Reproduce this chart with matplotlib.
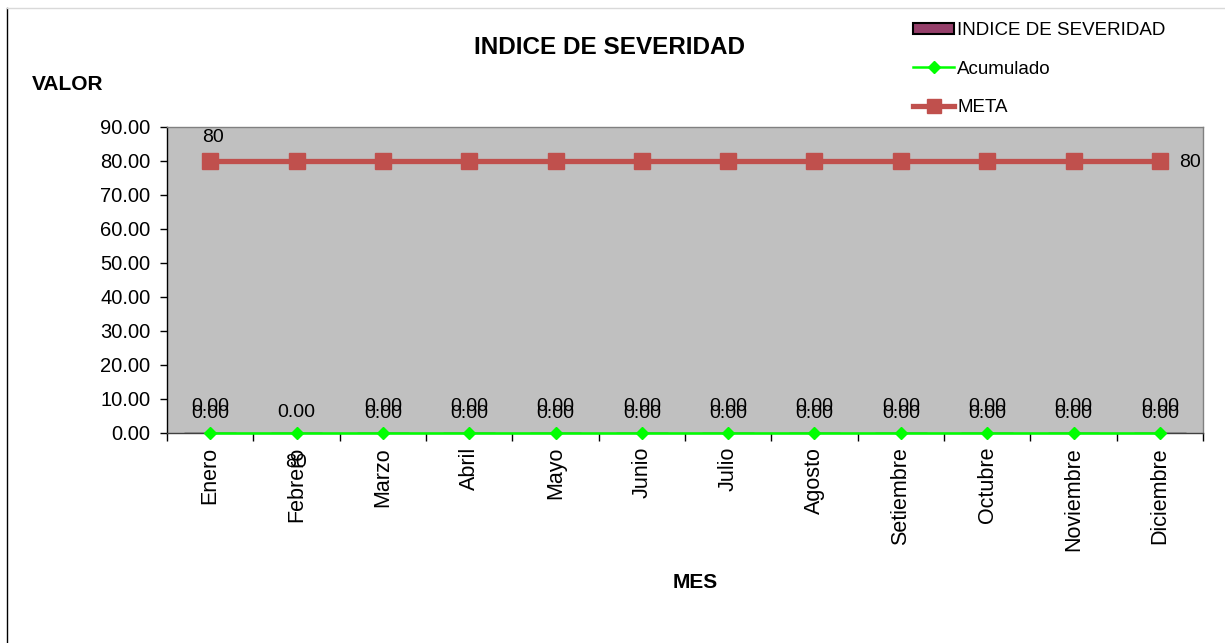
import matplotlib
matplotlib.use("Agg")
import matplotlib.pyplot as plt
from matplotlib.lines import Line2D
from matplotlib.patches import Patch
import numpy as np

plt.rcParams['font.family'] = ['Liberation Sans', 'DejaVu Sans']

meses = ["Enero", "Febrero", "Marzo", "Abril", "Mayo", "Junio", "Julio",
         "Agosto", "Setiembre", "Octubre", "Noviembre", "Diciembre"]
indice = [0, 0, 0, 0, 0, 0, 0, 0, 0, 0, 0, 0]
acumulado = [0, 0, 0, 0, 0, 0, 0, 0, 0, 0, 0, 0]
meta = [80, 80, 80, 80, 80, 80, 80, 80, 80, 80, 80, 80]
yticks = [0, 10, 20, 30, 40, 50, 60, 70, 80, 90]

W, H = 1225, 643
fig = plt.figure(figsize=(W / 100, H / 100), dpi=100)
ax = fig.add_axes([167 / W, 1 - 433 / H, (1203 - 167) / W, (433 - 127) / H])
ax.set_facecolor('#C0C0C0')

x = np.arange(len(meses))
bar_color = '#953F6A'
ax.bar(x, indice, width=0.6, color=bar_color, edgecolor='black', zorder=2)
ax.plot(x, acumulado, color='#00FF00', lw=1.8, marker='D', ms=6.5,
        mec='#00FF00', mfc='#00FF00', zorder=3, clip_on=False)
ax.plot(x, meta, color='#C0504D', lw=3.8, marker='s', ms=12,
        mec='#C0504D', mfc='#C0504D', zorder=4)

# data labels
LFS = 14
for i in range(len(meses)):
    if i == 1:
        ax.annotate(f"{indice[i]:.2f}", (x[i], indice[i]), xytext=(0, 15),
                    textcoords='offset points', ha='center', va='center', fontsize=LFS)
    else:
        ax.annotate(f"{indice[i]:.2f}", (x[i], indice[i]), xytext=(0, 19),
                    textcoords='offset points', ha='center', va='center', fontsize=LFS)
        ax.annotate(f"{acumulado[i]:.2f}", (x[i], acumulado[i]), xytext=(0, 14),
                    textcoords='offset points', ha='center', va='center', fontsize=LFS)

ax.annotate(f"{meta[0]}", (x[0], meta[0]), xytext=(2, 17), textcoords='offset points',
            ha='center', va='center', fontsize=LFS)
ax.annotate(f"{meta[1]}", (x[1], 0), xytext=(0, -21), textcoords='offset points',
            ha='center', va='center', fontsize=LFS, annotation_clip=False)
ax.annotate(f"{meta[-1]}", (x[-1], meta[-1]), xytext=(22, -1), textcoords='offset points',
            ha='center', va='center', fontsize=LFS)

ax.set_xlim(-0.5, len(meses) - 0.5)
ax.set_ylim(0, 90)
ax.set_yticks(yticks)
ax.set_yticklabels([f"{v:.2f}" for v in yticks], fontsize=14.5)
ax.tick_params(axis='y', direction='out', length=5, width=1, pad=7)

ax.set_xticks(np.arange(-0.5, len(meses), 1.0))
ax.set_xticklabels([])
ax.tick_params(axis='x', which='major', direction='out', length=6, width=1)
ax.set_xticks(x, minor=True)
ax.set_xticklabels(meses, minor=True, rotation=90, fontsize=15.5)
ax.tick_params(axis='x', which='minor', length=0, pad=10)

ax.spines['left'].set_color('black')
ax.spines['bottom'].set_color('#404040')
ax.spines['top'].set_color('#808080')
ax.spines['right'].set_color('#808080')
for s in ax.spines.values():
    s.set_linewidth(1)

fig.text(609 / W, 1 - 47 / H, "INDICE DE SEVERIDAD", ha='center', va='center',
         fontsize=17.5, fontweight='bold')
fig.text(32 / W, 1 - 84 / H, "VALOR", ha='left', va='center', fontsize=15,
         fontweight='bold')
fig.text(695 / W, 1 - 583 / H, "MES", ha='center', va='center', fontsize=15,
         fontweight='bold')

handles = [
    Patch(facecolor=bar_color, edgecolor='black', linewidth=1.5),
    Line2D([], [], color='#00FF00', lw=1.8, marker='D', ms=6.5),
    Line2D([], [], color='#C0504D', lw=3.8, marker='s', ms=10),
]
labels = ["INDICE DE SEVERIDAD", "Acumulado", "META"]
leg = fig.legend(handles, labels, loc='upper left',
                 bbox_to_anchor=(913 / W, 1 - 22 / H), frameon=False,
                 fontsize=13.5, handlelength=2.2, handleheight=0.55,
                 handletextpad=0.15, labelspacing=1.15, borderaxespad=0,
                 borderpad=0)

# chart area border fragments
fig.add_artist(Line2D([7 / W, 7 / W], [1 - 8 / H, 0], transform=fig.transFigure,
                      color='black', lw=1))
fig.add_artist(Line2D([7 / W, 1], [1 - 8 / H, 1 - 8 / H], transform=fig.transFigure,
                      color='#D9D9D9', lw=1))

fig.savefig("out.png", dpi=100)
